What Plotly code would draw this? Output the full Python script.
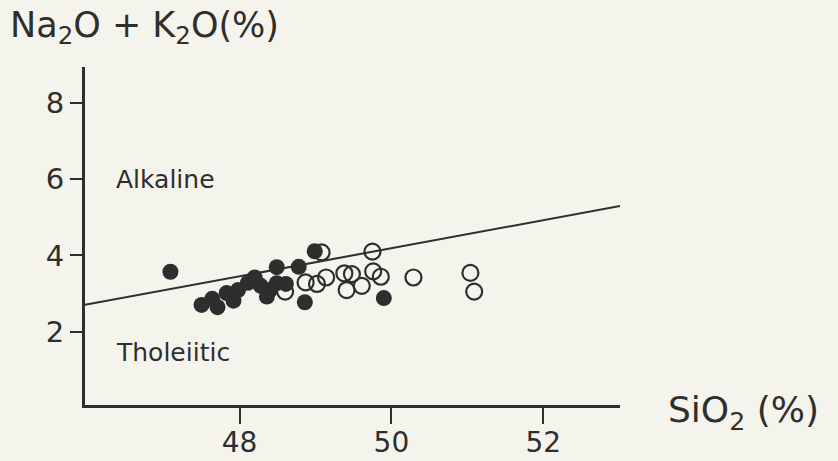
import plotly.graph_objects as go

# Tholeiitic (filled) samples
sio2_filled = [47.09, 47.50, 47.64, 47.71, 47.83, 47.92, 47.98, 48.11, 48.20, 48.28,
               48.36, 48.40, 48.49, 48.49, 48.61, 48.78, 48.86, 48.99, 49.90]
alk_filled = [3.57, 2.70, 2.86, 2.64, 3.01, 2.81, 3.09, 3.28, 3.42, 3.20,
              2.92, 3.09, 3.69, 3.27, 3.25, 3.70, 2.77, 4.11, 2.88]

# Open-circle samples
sio2_open = [49.08, 49.75, 48.60, 48.87, 49.02, 49.14, 49.38, 49.48, 49.41, 49.61,
             49.76, 49.86, 50.29, 51.04, 51.09]
alk_open = [4.08, 4.10, 3.05, 3.29, 3.25, 3.42, 3.53, 3.51, 3.09, 3.20,
            3.58, 3.44, 3.42, 3.54, 3.05]

# Alkaline / tholeiitic dividing line
line_x = [45.965, 53.01]
line_y = [2.70, 5.30]

x_ticks = [48, 50, 52]
y_ticks = [2, 4, 6, 8]

INK = "#2e2e2e"
BG = "#f5f4ec"
FONT = "DejaVu Sans"

W, H = 838, 461
ML, MR, MT, MB = 85, 218, 67, 56
pw, ph = W - ML - MR, H - MT - MB


def px_to_paper(px, py):
    return (px - ML) / pw, (H - MB - py) / ph


fig = go.Figure()
fig.add_trace(go.Scatter(x=line_x, y=line_y, mode="lines",
                         line=dict(color=INK, width=2), showlegend=False,
                         hoverinfo="skip"))
fig.add_trace(go.Scatter(x=sio2_filled, y=alk_filled, mode="markers",
                         marker=dict(symbol="circle", size=16, color=INK,
                                     line=dict(width=0)),
                         showlegend=False))
fig.add_trace(go.Scatter(x=sio2_open, y=alk_open, mode="markers",
                         marker=dict(symbol="circle-open", size=16, color=INK,
                                     line=dict(width=2.2, color=INK)),
                         showlegend=False))

fig.add_annotation(x=46.35, y=6.0, xref="x", yref="y", text="Alkaline",
                   showarrow=False, xanchor="left", yanchor="middle",
                   font=dict(family=FONT, size=25, color=INK))
fig.add_annotation(x=46.35, y=1.45, xref="x", yref="y", text="Tholeiitic",
                   showarrow=False, xanchor="left", yanchor="middle",
                   font=dict(family=FONT, size=25, color=INK))

tx, ty = px_to_paper(8, 27)
fig.add_annotation(x=tx, y=ty, xref="paper", yref="paper",
                   text="Na<sub>2</sub>O + K<sub>2</sub>O(%)", showarrow=False,
                   xanchor="left", yanchor="middle",
                   font=dict(family=FONT, size=35, color=INK))
sx, sy = px_to_paper(666, 412)
fig.add_annotation(x=sx, y=sy, xref="paper", yref="paper",
                   text="SiO<sub>2</sub> (%)", showarrow=False,
                   xanchor="left", yanchor="middle",
                   font=dict(family=FONT, size=36, color=INK))

fig.update_layout(
    width=W, height=H,
    margin=dict(l=ML, r=MR, t=MT, b=MB, autoexpand=False),
    paper_bgcolor=BG, plot_bgcolor=BG,
    font=dict(family=FONT, size=27, color=INK),
)
fig.update_xaxes(range=[45.965, 53.01], tickvals=x_ticks, showgrid=False,
                 zeroline=False, showline=True, linecolor=INK, linewidth=3,
                 ticks="outside", ticklen=16, tickwidth=2, tickcolor=INK,
                 automargin=False, ticklabelstandoff=-6,
                 tickfont=dict(family=FONT, size=28, color=INK))
fig.update_yaxes(range=[0.07, 8.95], tickvals=y_ticks, showgrid=False,
                 zeroline=False, showline=True, linecolor=INK, linewidth=3,
                 ticks="outside", ticklen=12, tickwidth=2, tickcolor=INK,
                 automargin=False,
                 tickfont=dict(family=FONT, size=29, color=INK))

fig.write_html("out.html",
               config={"displayModeBar": False},
               post_script="document.body.style.margin='0';"
                           "document.body.style.background='" + BG + "';")
